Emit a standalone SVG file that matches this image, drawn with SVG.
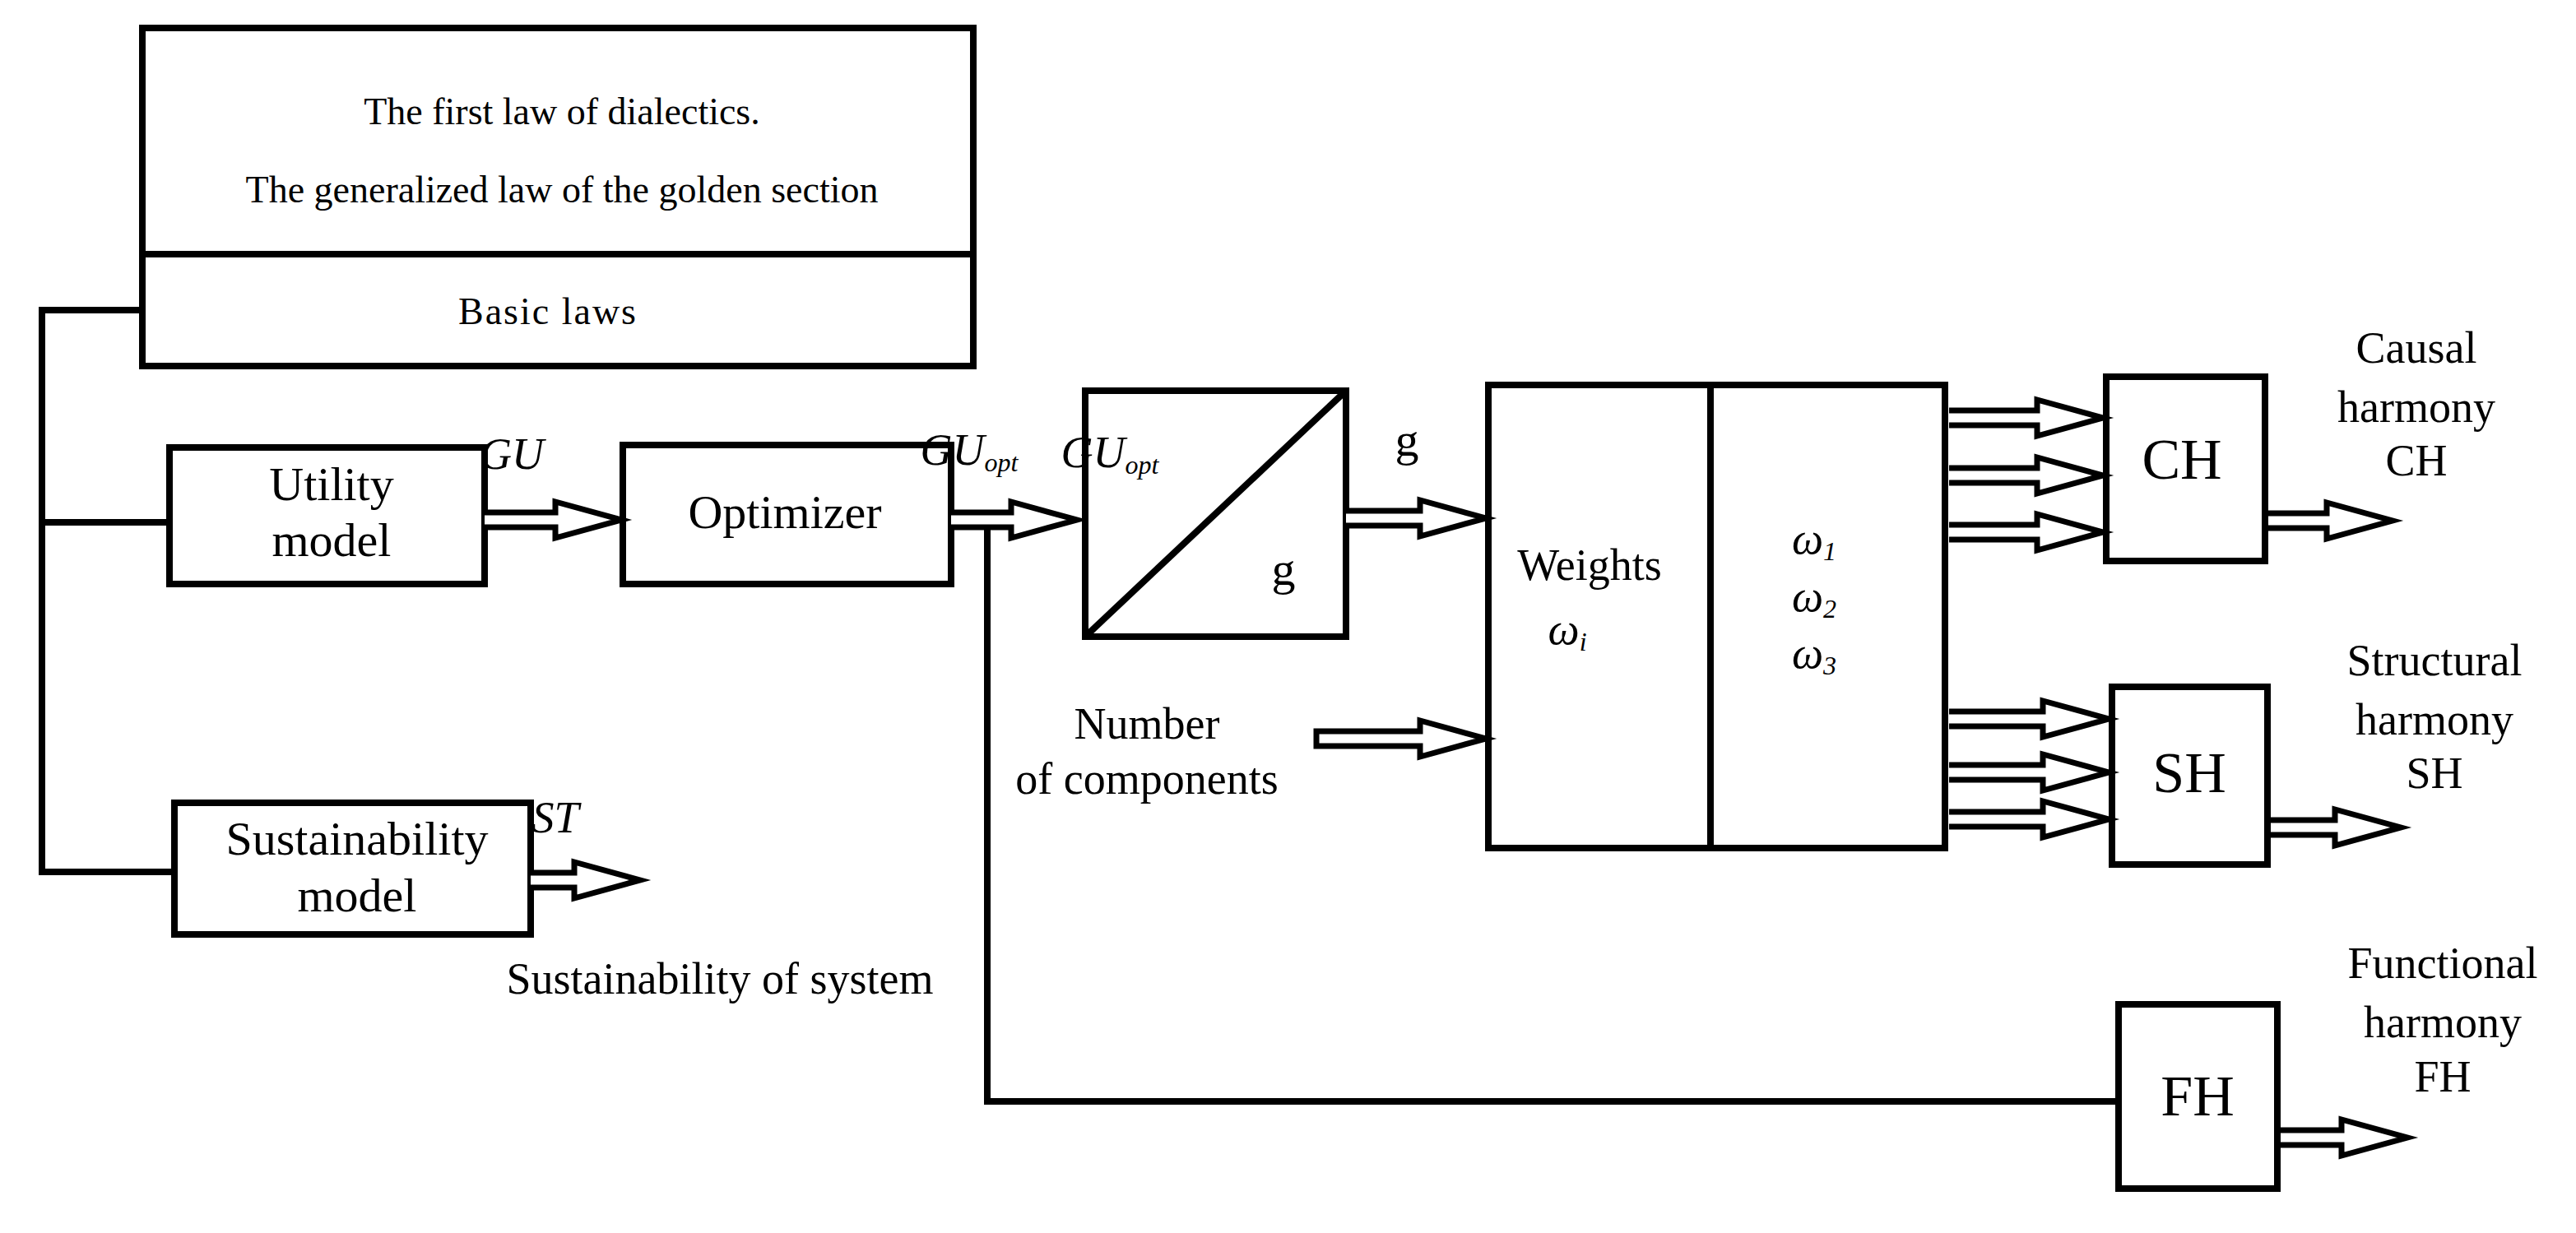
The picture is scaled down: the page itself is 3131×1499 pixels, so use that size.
<svg xmlns="http://www.w3.org/2000/svg" width="3131" height="1499" viewBox="0 0 3131 1499">
<style>
.box{fill:#fff;stroke:#000;stroke-width:8}
.ln{fill:none;stroke:#000;stroke-width:8}
.dbl{fill:#fff;stroke:#000;stroke-width:7;stroke-linejoin:miter}
text{font-family:"Liberation Serif","Times New Roman",serif;fill:#000;text-anchor:middle}
.t46{font-size:46px}
.t58{font-size:58px}
.t55{font-size:54px}
.big{font-size:70px}
.it{font-style:italic}
</style>
<g id="basic-laws">
<rect class="box" x="173" y="34" width="1010" height="411"/>
<line class="ln" x1="173" y1="309" x2="1183" y2="309"/>
<text class="t46" x="683" y="151">The first law of dialectics.</text>
<text class="t46" x="683" y="246">The generalized law of the golden section</text>
<text class="t46" x="666" y="394" letter-spacing="2">Basic laws</text>
</g>
<g id="utility-model">
<rect class="box" x="206" y="544" width="383" height="166"/>
<text class="t58" x="403" y="608">Utility</text>
<text class="t58" x="403" y="676">model</text>
</g>
<g id="optimizer">
<rect class="box" x="757" y="541" width="399" height="169"/>
<text class="t58" x="954" y="642">Optimizer</text>
</g>
<g id="sustainability-model">
<rect class="box" x="212" y="976" width="433" height="160"/>
<text class="t58" x="434" y="1039">Sustainability</text>
<text class="t58" x="434" y="1108">model</text>
</g>
<g id="converter">
<rect class="box" x="1319" y="475" width="317" height="299"/>
<line class="ln" x1="1319" y1="774" x2="1636" y2="475"/>
<text class="t55 it" x="1349" y="568" text-anchor="start">GU<tspan font-size="32" dy="8">opt</tspan></text>
<text class="t58" x="1560" y="711">g</text>
</g>
<g id="weights">
<rect class="box" x="1809" y="468" width="555" height="563"/>
<line class="ln" x1="2079" y1="468" x2="2079" y2="1031"/>
<text class="t55" x="1932" y="705">Weights</text>
<text class="t55 it" x="1905" y="783">ω<tspan font-size="32" dy="8">i</tspan></text>
<text class="t55 it" x="2205" y="673">ω<tspan font-size="32" dy="8">1</tspan></text>
<text class="t55 it" x="2205" y="743">ω<tspan font-size="32" dy="8">2</tspan></text>
<text class="t55 it" x="2205" y="812">ω<tspan font-size="32" dy="8">3</tspan></text>
</g>
<g id="CH">
<rect class="box" x="2560" y="458" width="193" height="224"/>
<text class="big" x="2652" y="582">CH</text>
</g>
<g id="SH">
<rect class="box" x="2567" y="835" width="189" height="216"/>
<text class="big" x="2661" y="963">SH</text>
</g>
<g id="FH">
<rect class="box" x="2575" y="1221" width="193" height="224"/>
<text class="big" x="2671" y="1356">FH</text>
</g>
<g id="labels">
<text class="t55 it" x="622" y="570" text-anchor="start">GU</text>
<text class="t55 it" x="1178" y="565" text-anchor="start">GU<tspan font-size="32" dy="8">opt</tspan></text>
<text class="t55 it" x="675" y="1012" text-anchor="start">ST</text>
<text class="t55" x="875" y="1208">Sustainability of system</text>
<text class="t58" x="1710" y="554">g</text>
<text class="t55" x="1394" y="898">Number</text>
<text class="t55" x="1394" y="965">of components</text>
<text class="t55" x="2937" y="441">Causal</text>
<text class="t55" x="2937" y="513">harmony</text>
<text class="t55" x="2937" y="578">CH</text>
<text class="t55" x="2959" y="821">Structural</text>
<text class="t55" x="2959" y="893">harmony</text>
<text class="t55" x="2959" y="958">SH</text>
<text class="t55" x="2969" y="1189">Functional</text>
<text class="t55" x="2969" y="1261">harmony</text>
<text class="t55" x="2969" y="1327">FH</text>
</g>
<g id="connectors">
<path class="ln" d="M173,377 H51 V1060 H212 M51,635 H206"/>
<path class="ln" d="M1200,641 V1339 H2575"/>
<path class="dbl" d="M589,623 H675 V610 L755,632 L675,654 V641 H589"/>
<path class="dbl" d="M1156,623 H1229 V610 L1309,632 L1229,654 V641 H1156"/>
<path class="dbl" d="M645,1061 H698 V1048 L778,1070 L698,1092 V1079 H645"/>
<path class="dbl" d="M1636,621 H1726 V608 L1806,630 L1726,652 V639 H1636"/>
<path class="dbl" d="M1600,889 H1726 V876 L1806,898 L1726,920 V907 H1600 Z"/>
<path class="dbl" d="M2369,499 H2476 V486 L2556,508 L2476,530 V517 H2369"/>
<path class="dbl" d="M2369,569 H2476 V556 L2556,578 L2476,600 V587 H2369"/>
<path class="dbl" d="M2369,638 H2476 V625 L2556,647 L2476,669 V656 H2369"/>
<path class="dbl" d="M2369,865 H2483 V852 L2563,874 L2483,896 V883 H2369"/>
<path class="dbl" d="M2369,930 H2483 V917 L2563,939 L2483,961 V948 H2369"/>
<path class="dbl" d="M2369,987 H2483 V974 L2563,996 L2483,1018 V1005 H2369"/>
<path class="dbl" d="M2757,624 H2828 V611 L2908,633 L2828,655 V642 H2757"/>
<path class="dbl" d="M2760,997 H2838 V984 L2918,1006 L2838,1028 V1015 H2760"/>
<path class="dbl" d="M2772,1374 H2846 V1361 L2926,1383 L2846,1405 V1392 H2772"/>
</g>
</svg>
